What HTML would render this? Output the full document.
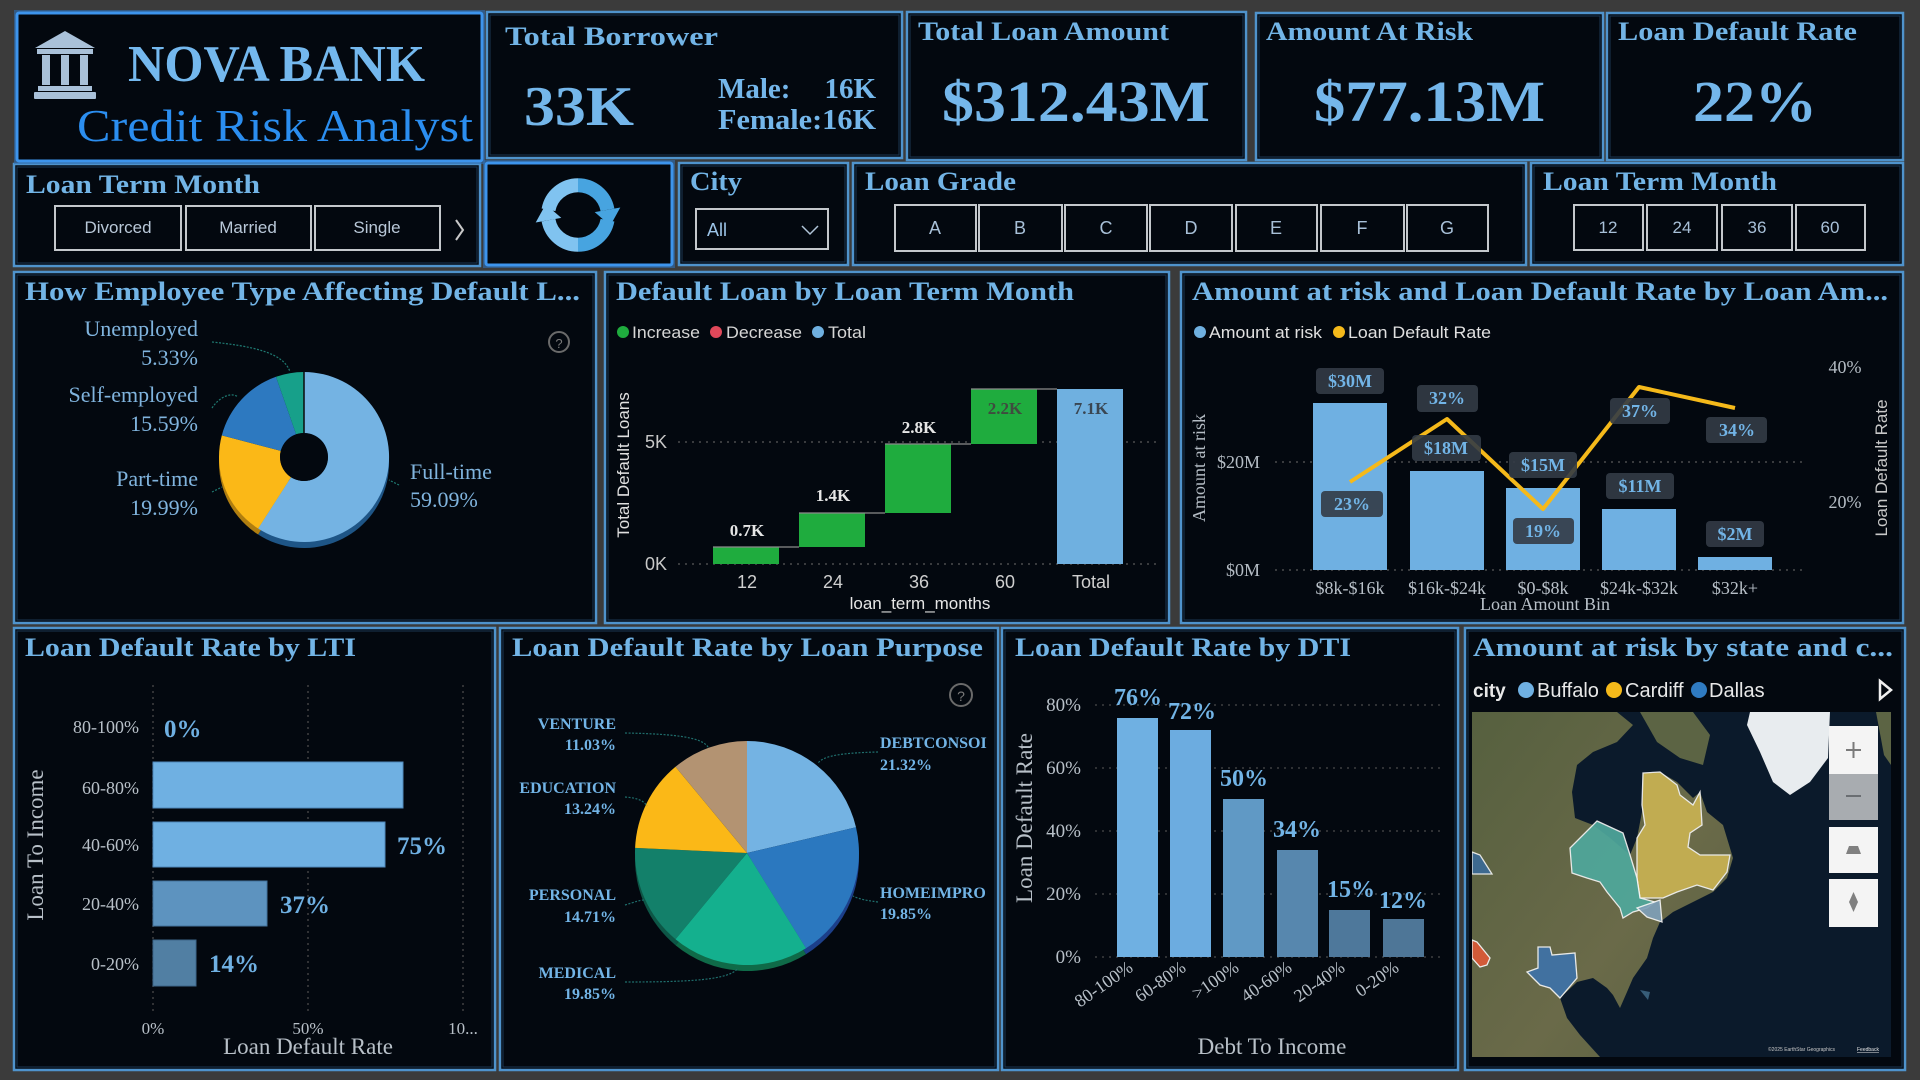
<!DOCTYPE html>
<html><head><meta charset="utf-8"><style>
html,body{margin:0;padding:0;background:#3b3b3b;width:1920px;height:1080px;overflow:hidden}
svg{display:block}
.t{font-family:"Liberation Serif",serif;font-weight:bold;font-size:26px;fill:#72b4e6}
.s{font-family:"Liberation Sans",sans-serif}
.f{font-family:"Liberation Serif",serif}
</style></head><body>
<svg width="1920" height="1080" viewBox="0 0 1920 1080" xmlns="http://www.w3.org/2000/svg">
<defs>
<linearGradient id="rg" x1="0" y1="0" x2="1" y2="0"><stop offset="0.5" stop-color="#80c3f0"/><stop offset="0.5" stop-color="#47a4e0"/></linearGradient>
<linearGradient id="land" x1="0" y1="0" x2="1" y2="1"><stop offset="0" stop-color="#56603f"/><stop offset="0.6" stop-color="#6a6a49"/><stop offset="1" stop-color="#5a6140"/></linearGradient>
<clipPath id="mapclip"><rect x="1472" y="712" width="419" height="345"/></clipPath>
</defs>
<rect width="1920" height="1080" fill="#3b3b3b"/>

<!-- PANELS -->
<g fill="#03080f" stroke="#4f93cc" stroke-width="2.5">
<rect x="487" y="12" width="415" height="146"/>
<rect x="907" y="12" width="339" height="148"/>
<rect x="1256" y="13" width="347" height="147"/>
<rect x="1607" y="13" width="296" height="147"/>
<rect x="14" y="164" width="466" height="102"/>
<rect x="679" y="163" width="169" height="102"/>
<rect x="853" y="163" width="673" height="102"/>
<rect x="1531" y="163" width="372" height="102"/>
<rect x="14" y="272" width="582" height="351"/>
<rect x="605" y="272" width="564" height="351"/>
<rect x="1181" y="272" width="722" height="351"/>
<rect x="14" y="628" width="481" height="442"/>
<rect x="500" y="628" width="498" height="442"/>
<rect x="1002" y="628" width="456" height="442"/>
<rect x="1465" y="628" width="440" height="442"/>
</g>
<g fill="none" stroke="#1b3650" stroke-width="1">
<rect x="490" y="15" width="409" height="140"/>
<rect x="910" y="15" width="333" height="142"/>
<rect x="1259" y="16" width="341" height="141"/>
<rect x="1610" y="16" width="290" height="141"/>
<rect x="17" y="167" width="460" height="96"/>
<rect x="682" y="166" width="163" height="96"/>
<rect x="856" y="166" width="667" height="96"/>
<rect x="1534" y="166" width="366" height="96"/>
<rect x="17" y="275" width="576" height="345"/>
<rect x="608" y="275" width="558" height="345"/>
<rect x="1184" y="275" width="716" height="345"/>
<rect x="17" y="631" width="475" height="436"/>
<rect x="503" y="631" width="492" height="436"/>
<rect x="1005" y="631" width="450" height="436"/>
<rect x="1468" y="631" width="434" height="436"/>
</g>
<!-- bright panels -->
<rect x="17" y="13" width="465" height="148" fill="#03080f" stroke="#2f6fb5" stroke-width="6" opacity="0.6"/>
<rect x="17" y="13" width="465" height="148" fill="#03080f" stroke="#3d94ec" stroke-width="3" rx="2"/>
<rect x="486" y="163" width="186" height="102" fill="#03080f" stroke="#2f6fb5" stroke-width="6" opacity="0.6"/>
<rect x="486" y="163" width="186" height="102" fill="#03080f" stroke="#3d94ec" stroke-width="3" rx="2"/>

<!-- TITLE BOX -->
<g fill="#a9c1d9">
<polygon points="65,31 35,48 95,48"/>
<rect x="37" y="49" width="56" height="5"/>
<rect x="42" y="55" width="8" height="30"/>
<rect x="61" y="55" width="8" height="30"/>
<rect x="80" y="55" width="8" height="30"/>
<rect x="38" y="86" width="54" height="5"/>
<rect x="34" y="92" width="62" height="7" rx="1"/>
</g>
<text x="128" y="81" class="f" font-weight="bold" font-size="52" fill="#74b8ee" textLength="297" lengthAdjust="spacingAndGlyphs">NOVA BANK</text>
<text x="77" y="141" class="f" font-size="46" fill="#2b8ef0" textLength="396" lengthAdjust="spacingAndGlyphs">Credit Risk Analyst</text>

<!-- KPI -->
<text x="505" y="45" class="t" textLength="213" lengthAdjust="spacingAndGlyphs">Total Borrower</text>
<text x="524" y="125" class="f" font-weight="bold" font-size="56" fill="#74b6ea" textLength="110" lengthAdjust="spacingAndGlyphs">33K</text>
<text x="718" y="98" class="f" font-weight="bold" font-size="29" fill="#74b6ea">Male:</text>
<text x="876" y="98" class="f" font-weight="bold" font-size="29" fill="#74b6ea" text-anchor="end">16K</text>
<text x="718" y="129" class="f" font-weight="bold" font-size="29" fill="#74b6ea" textLength="158" lengthAdjust="spacingAndGlyphs">Female:16K</text>

<text x="918" y="40" class="t" textLength="251" lengthAdjust="spacingAndGlyphs">Total Loan Amount</text>
<text x="942" y="121" class="f" font-weight="bold" font-size="58" fill="#74b6ea" textLength="268" lengthAdjust="spacingAndGlyphs">$312.43M</text>
<text x="1266" y="40" class="t" textLength="207" lengthAdjust="spacingAndGlyphs">Amount At Risk</text>
<text x="1314" y="121" class="f" font-weight="bold" font-size="58" fill="#74b6ea" textLength="231" lengthAdjust="spacingAndGlyphs">$77.13M</text>
<text x="1618" y="40" class="t" textLength="239" lengthAdjust="spacingAndGlyphs">Loan Default Rate</text>
<text x="1693" y="121" class="f" font-weight="bold" font-size="58" fill="#74b6ea" textLength="124" lengthAdjust="spacingAndGlyphs">22%</text>

<!-- SLICERS -->
<text x="26" y="193" class="t" textLength="234" lengthAdjust="spacingAndGlyphs">Loan Term Month</text>
<g fill="none" stroke="#c4c8cc" stroke-width="2">
<rect x="55" y="206" width="126" height="44"/>
<rect x="186" y="206" width="125" height="44"/>
<rect x="315" y="206" width="125" height="44"/>
</g>
<g class="s" font-size="17" fill="#b9c8d8" text-anchor="middle">
<text x="118" y="233">Divorced</text>
<text x="248" y="233">Married</text>
<text x="377" y="233">Single</text>
</g>
<polyline points="456,220 463,230 456,240" fill="none" stroke="#c8c8c8" stroke-width="2"/>

<!-- refresh icon -->
<g>
<path d="M548.5,209.8 A30,30 0 0 1 607.5,209.8" fill="none" stroke="url(#rg)" stroke-width="14"/>
<path d="M607.5,220.2 A30,30 0 0 1 548.5,220.2" fill="none" stroke="url(#rg)" stroke-width="14"/>
<polygon points="620.3,207.5 594.7,212.1 610.3,225.6" fill="#47a4e0"/>
<polygon points="535.7,222.5 561.3,217.9 545.7,204.4" fill="#80c3f0"/>
</g>

<text x="690" y="190" class="t" textLength="52" lengthAdjust="spacingAndGlyphs">City</text>
<rect x="696" y="209" width="132" height="40" fill="none" stroke="#c4c8cc" stroke-width="2"/>
<text x="707" y="236" class="s" font-size="18" fill="#9cc4e8">All</text>
<polyline points="802,226 810,234 818,226" fill="none" stroke="#b0c4d8" stroke-width="1.5"/>

<text x="865" y="190" class="t" textLength="151" lengthAdjust="spacingAndGlyphs">Loan Grade</text>
<g fill="none" stroke="#c4c8cc" stroke-width="2">
<rect x="895" y="205" width="81" height="46"/>
<rect x="979" y="205" width="83" height="46"/>
<rect x="1065" y="205" width="82" height="46"/>
<rect x="1150" y="205" width="82" height="46"/>
<rect x="1236" y="205" width="81" height="46"/>
<rect x="1321" y="205" width="83" height="46"/>
<rect x="1407" y="205" width="81" height="46"/>
</g>
<g class="s" font-size="18" fill="#a8c0d8" text-anchor="middle">
<text x="935" y="234">A</text><text x="1020" y="234">B</text><text x="1106" y="234">C</text><text x="1191" y="234">D</text><text x="1276" y="234">E</text><text x="1362" y="234">F</text><text x="1447" y="234">G</text>
</g>

<text x="1543" y="190" class="t" textLength="234" lengthAdjust="spacingAndGlyphs">Loan Term Month</text>
<g fill="none" stroke="#c4c8cc" stroke-width="2">
<rect x="1574" y="205" width="69" height="45"/>
<rect x="1647" y="205" width="70" height="45"/>
<rect x="1722" y="205" width="70" height="45"/>
<rect x="1796" y="205" width="69" height="45"/>
</g>
<g class="s" font-size="17" fill="#a8c0d8" text-anchor="middle">
<text x="1608" y="233">12</text><text x="1682" y="233">24</text><text x="1757" y="233">36</text><text x="1830" y="233">60</text>
</g>

<!-- EMPLOYEE DONUT -->
<text x="25" y="300" class="t" textLength="555" lengthAdjust="spacingAndGlyphs">How Employee Type Affecting Default L...</text>
<circle cx="559" cy="342" r="10" fill="none" stroke="#6a6a6a" stroke-width="2"/>
<text x="559" y="348" class="s" font-size="13" fill="#7a7a7a" text-anchor="middle">?</text>
<g transform="translate(0,6)">
<path d="M304,372 A85,85 0 1 1 258.1,528.5 L291.0,477.2 A24,24 0 1 0 304,433 Z" fill="#1e5586"/>
<path d="M258.1,528.5 A85,85 0 0 1 221.8,435.4 L280.8,450.9 A24,24 0 0 0 291.0,477.2 Z" fill="#b07e10"/>
</g>
<path d="M304,372 A85,85 0 1 1 258.1,528.5 L291.0,477.2 A24,24 0 1 0 304,433 Z" fill="#74b3e3"/>
<path d="M258.1,528.5 A85,85 0 0 1 221.8,435.4 L280.8,450.9 A24,24 0 0 0 291.0,477.2 Z" fill="#fbb817"/>
<path d="M221.8,435.4 A85,85 0 0 1 276.0,376.8 L296.1,434.3 A24,24 0 0 0 280.8,450.9 Z" fill="#2d79c0"/>
<path d="M276.0,376.8 A85,85 0 0 1 304,372 L304,433 A24,24 0 0 0 296.1,434.3 Z" fill="#17a08a"/>
<line x1="304" y1="372" x2="304" y2="433" stroke="#0a0a0a" stroke-width="1.5"/>
<circle cx="304" cy="457" r="24" fill="#03080f"/>
<g fill="none" stroke="#1f7a72" stroke-width="1.2" stroke-dasharray="2,1.5">
<path d="M212,342 C250,346 284,352 290,372"/>
<path d="M212,408 C220,396 232,392 238,397"/>
<path d="M212,492 L222,487"/>
<path d="M399,485 L389,480"/>
</g>
<g class="f" font-size="22" fill="#80b4de" text-anchor="end">
<text x="198" y="336">Unemployed</text>
<text x="198" y="365">5.33%</text>
<text x="198" y="402">Self-employed</text>
<text x="198" y="431">15.59%</text>
<text x="198" y="486">Part-time</text>
<text x="198" y="515">19.99%</text>
</g>
<g class="f" font-size="22" fill="#80b4de">
<text x="410" y="479">Full-time</text>
<text x="410" y="507">59.09%</text>
</g>

<!-- WATERFALL -->
<text x="616" y="300" class="t" textLength="458" lengthAdjust="spacingAndGlyphs">Default Loan by Loan Term Month</text>
<circle cx="623" cy="332" r="6" fill="#1fac3e"/>
<circle cx="716" cy="332" r="6" fill="#e0485a"/>
<circle cx="818" cy="332" r="6" fill="#6fb0e0"/>
<g class="s" font-size="17" fill="#d6d6d6">
<text x="632" y="338" textLength="68" lengthAdjust="spacingAndGlyphs">Increase</text>
<text x="726" y="338" textLength="76" lengthAdjust="spacingAndGlyphs">Decrease</text>
<text x="828" y="338" textLength="38" lengthAdjust="spacingAndGlyphs">Total</text>
</g>
<g stroke="#5a5a5a" stroke-width="1.3" stroke-dasharray="2,5">
<line x1="678" y1="564" x2="1160" y2="564"/>
<line x1="678" y1="442" x2="1160" y2="442"/>
</g>
<g class="s" font-size="18" fill="#c8c8c8" text-anchor="end">
<text x="667" y="570">0K</text><text x="667" y="448">5K</text>
</g>
<text transform="translate(629,465) rotate(-90)" class="s" font-size="17" fill="#e0e0e0" text-anchor="middle">Total Default Loans</text>
<g fill="#1fac3e">
<rect x="713" y="547" width="66" height="17"/>
<rect x="799" y="513" width="66" height="34"/>
<rect x="885" y="444" width="66" height="69"/>
<rect x="971" y="389" width="66" height="55"/>
</g>
<rect x="1057" y="389" width="66" height="175" fill="#6fb0e0"/>
<g stroke="#8a8a8a" stroke-width="1.3">
<line x1="713" y1="547" x2="799" y2="547"/>
<line x1="799" y1="513" x2="885" y2="513"/>
<line x1="885" y1="444" x2="971" y2="444"/>
<line x1="971" y1="389" x2="1057" y2="389"/>
</g>
<g class="f" font-weight="bold" font-size="17" text-anchor="middle">
<text x="747" y="536" fill="#e6e6e6">0.7K</text>
<text x="833" y="501" fill="#e6e6e6">1.4K</text>
<text x="919" y="433" fill="#e6e6e6">2.8K</text>
<text x="1005" y="414" fill="#3f4c3f">2.2K</text>
<text x="1091" y="414" fill="#3a4652">7.1K</text>
</g>
<g class="s" font-size="18" fill="#cfcfcf" text-anchor="middle">
<text x="747" y="588">12</text><text x="833" y="588">24</text><text x="919" y="588">36</text><text x="1005" y="588">60</text><text x="1091" y="588">Total</text>
</g>
<text x="920" y="609" class="s" font-size="17" fill="#e6e6e6" text-anchor="middle">loan_term_months</text>

<!-- AMOUNT AT RISK COMBO -->
<text x="1192" y="300" class="t" textLength="696" lengthAdjust="spacingAndGlyphs">Amount at risk and Loan Default Rate by Loan Am...</text>
<circle cx="1200" cy="332" r="6" fill="#6fb0e0"/>
<circle cx="1339" cy="332" r="6" fill="#f5b91a"/>
<g class="s" font-size="17" fill="#e0e0e0">
<text x="1209" y="338" textLength="113" lengthAdjust="spacingAndGlyphs">Amount at risk</text>
<text x="1348" y="338" textLength="143" lengthAdjust="spacingAndGlyphs">Loan Default Rate</text>
</g>
<g stroke="#5a5a5a" stroke-width="1.3" stroke-dasharray="2,5">
<line x1="1275" y1="570" x2="1807" y2="570"/>
<line x1="1275" y1="462" x2="1807" y2="462"/>
</g>
<g class="f" font-size="18" fill="#b4bcc4">
<text x="1260" y="576" text-anchor="end">$0M</text>
<text x="1260" y="468" text-anchor="end">$20M</text>
<text x="1845" y="373" text-anchor="middle">40%</text>
<text x="1845" y="508" text-anchor="middle">20%</text>
</g>
<text transform="translate(1205,468) rotate(-90)" class="f" font-size="18" fill="#b4bcc4" text-anchor="middle">Amount at risk</text>
<text transform="translate(1887,468) rotate(-90)" class="s" font-size="17" fill="#c8c8c8" text-anchor="middle">Loan Default Rate</text>
<g fill="#6fb0e2">
<rect x="1313" y="403" width="74" height="167"/>
<rect x="1410" y="471" width="74" height="99"/>
<rect x="1506" y="488" width="74" height="82"/>
<rect x="1602" y="509" width="74" height="61"/>
<rect x="1698" y="557" width="74" height="13"/>
</g>
<polyline points="1350,482 1447,419 1543,509 1639,387 1735,408" fill="none" stroke="#f5b91a" stroke-width="4" stroke-linejoin="round"/>
<g fill="#333b46" opacity="0.9">
<rect x="1316" y="368" width="68" height="26" rx="4"/>
<rect x="1417" y="385" width="61" height="27" rx="4"/>
<rect x="1412" y="435" width="69" height="26" rx="4"/>
<rect x="1509" y="452" width="68" height="26" rx="4"/>
<rect x="1321" y="491" width="62" height="26" rx="4"/>
<rect x="1513" y="518" width="61" height="26" rx="4"/>
<rect x="1610" y="398" width="60" height="26" rx="4"/>
<rect x="1606" y="473" width="68" height="26" rx="4"/>
<rect x="1706" y="417" width="61" height="26" rx="4"/>
<rect x="1706" y="521" width="58" height="26" rx="4"/>
</g>
<g class="f" font-weight="bold" font-size="18" fill="#72b4e6" text-anchor="middle">
<text x="1350" y="387">$30M</text>
<text x="1447" y="404">32%</text>
<text x="1446" y="454">$18M</text>
<text x="1543" y="471">$15M</text>
<text x="1352" y="510">23%</text>
<text x="1543" y="537">19%</text>
<text x="1640" y="417">37%</text>
<text x="1640" y="492">$11M</text>
<text x="1737" y="436">34%</text>
<text x="1735" y="540">$2M</text>
</g>
<g class="f" font-size="18" fill="#b8c0c8" text-anchor="middle">
<text x="1350" y="594">$8k-$16k</text>
<text x="1447" y="594">$16k-$24k</text>
<text x="1543" y="594">$0-$8k</text>
<text x="1639" y="594">$24k-$32k</text>
<text x="1735" y="594">$32k+</text>
<text x="1545" y="610">Loan Amount Bin</text>
</g>

<!-- LTI -->
<text x="25" y="656" class="t" textLength="331" lengthAdjust="spacingAndGlyphs">Loan Default Rate by LTI</text>
<g stroke="#4a4a4a" stroke-width="1.3" stroke-dasharray="2,4">
<line x1="153" y1="685" x2="153" y2="1012"/>
<line x1="308" y1="685" x2="308" y2="1012"/>
<line x1="463" y1="685" x2="463" y2="1012"/>
</g>
<rect x="153" y="762" width="250" height="46" fill="#6fb0e2" stroke="#4f88bb" stroke-width="1"/>
<rect x="153" y="822" width="232" height="45" fill="#6fb0e2" stroke="#4f88bb" stroke-width="1"/>
<rect x="153" y="881" width="114" height="45" fill="#5d93bf" stroke="#44739c" stroke-width="1"/>
<rect x="153" y="940" width="43" height="46" fill="#517fa3" stroke="#3d6688" stroke-width="1"/>
<g class="f" font-size="18" fill="#b8c0c8" text-anchor="end">
<text x="139" y="733">80-100%</text>
<text x="139" y="794">60-80%</text>
<text x="139" y="851">40-60%</text>
<text x="139" y="910">20-40%</text>
<text x="139" y="970">0-20%</text>
</g>
<g class="f" font-weight="bold" font-size="25" fill="#6fb0e2">
<text x="164" y="737">0%</text>
<text x="397" y="854">75%</text>
<text x="280" y="913">37%</text>
<text x="209" y="972">14%</text>
</g>
<g class="f" font-size="17" fill="#b8c0c8" text-anchor="middle">
<text x="153" y="1034">0%</text><text x="308" y="1034">50%</text><text x="463" y="1034">10...</text>
</g>
<text x="308" y="1054" class="f" font-size="23" fill="#b8c0c8" text-anchor="middle">Loan Default Rate</text>
<text transform="translate(43,845) rotate(-90)" class="f" font-size="23" fill="#b8c0c8" text-anchor="middle">Loan To Income</text>

<!-- PURPOSE PIE -->
<text x="512" y="656" class="t" textLength="471" lengthAdjust="spacingAndGlyphs">Loan Default Rate by Loan Purpose</text>
<circle cx="961" cy="695" r="11" fill="none" stroke="#6a6a6a" stroke-width="2"/>
<text x="961" y="701" class="s" font-size="14" fill="#7a7a7a" text-anchor="middle">?</text>
<g transform="translate(0,6)">
<path d="M747,853 L856.0,827.3 A112,112 0 0 1 806.0,948.2 Z" fill="#1c3f8a"/>
<path d="M747,853 L806.0,948.2 A112,112 0 0 1 675.5,939.2 Z" fill="#0f6a48"/>
<path d="M747,853 L675.5,939.2 A112,112 0 0 1 635.1,847.9 Z" fill="#0d5646"/>
</g>
<path d="M747,853 L747,741 A112,112 0 0 1 856.0,827.3 Z" fill="#74b3e3"/>
<path d="M747,853 L856.0,827.3 A112,112 0 0 1 806.0,948.2 Z" fill="#2b78bf"/>
<path d="M747,853 L806.0,948.2 A112,112 0 0 1 675.5,939.2 Z" fill="#14b08e"/>
<path d="M747,853 L675.5,939.2 A112,112 0 0 1 635.1,847.9 Z" fill="#13806a"/>
<path d="M747,853 L635.1,847.9 A112,112 0 0 1 675.5,766.8 Z" fill="#fbb817"/>
<path d="M747,853 L675.5,766.8 A112,112 0 0 1 747,741 Z" fill="#b39372"/>
<g fill="none" stroke="#1f6e6c" stroke-width="1.2" stroke-dasharray="2,1.5">
<path d="M625,733 C680,734 702,738 708,747"/>
<path d="M625,797 C638,798 644,801 647,806"/>
<path d="M625,905 C635,902 640,900 644,900"/>
<path d="M625,982 C690,982 730,980 738,968"/>
<path d="M878,752 C835,753 823,757 818,763"/>
<path d="M878,902 C862,900 857,898 853,896"/>
</g>
<g class="f" font-weight="bold" font-size="16" fill="#72b4e6" text-anchor="end">
<text x="616" y="729">VENTURE</text><text x="616" y="750">11.03%</text>
<text x="616" y="793">EDUCATION</text><text x="616" y="814">13.24%</text>
<text x="616" y="900">PERSONAL</text><text x="616" y="922">14.71%</text>
<text x="616" y="978">MEDICAL</text><text x="616" y="999">19.85%</text>
</g>
<g class="f" font-weight="bold" font-size="16" fill="#72b4e6">
<text x="880" y="748">DEBTCONSOI</text><text x="880" y="770">21.32%</text>
<text x="880" y="898">HOMEIMPRO</text><text x="880" y="919">19.85%</text>
</g>

<!-- DTI -->
<text x="1015" y="656" class="t" textLength="336" lengthAdjust="spacingAndGlyphs">Loan Default Rate by DTI</text>
<g stroke="#4a4a4a" stroke-width="1.3" stroke-dasharray="2,5">
<line x1="1095" y1="957" x2="1443" y2="957"/>
<line x1="1095" y1="894" x2="1443" y2="894"/>
<line x1="1095" y1="831" x2="1443" y2="831"/>
<line x1="1095" y1="768" x2="1443" y2="768"/>
<line x1="1095" y1="705" x2="1443" y2="705"/>
</g>
<g class="f" font-size="19" fill="#b8c0c8" text-anchor="end">
<text x="1081" y="963">0%</text><text x="1081" y="900">20%</text><text x="1081" y="837">40%</text><text x="1081" y="774">60%</text><text x="1081" y="711">80%</text>
</g>
<rect x="1117" y="718" width="41" height="239" fill="#6fb0e2"/>
<rect x="1170" y="730" width="41" height="227" fill="#6cace0"/>
<rect x="1223" y="799" width="41" height="158" fill="#6099c5"/>
<rect x="1277" y="850" width="41" height="107" fill="#5787ae"/>
<rect x="1329" y="910" width="41" height="47" fill="#4e789b"/>
<rect x="1383" y="919" width="41" height="38" fill="#4e7697"/>
<g class="f" font-weight="bold" font-size="24" fill="#72b4e6" text-anchor="middle">
<text x="1138" y="705">76%</text><text x="1192" y="719">72%</text><text x="1244" y="786">50%</text><text x="1297" y="837">34%</text><text x="1351" y="897">15%</text><text x="1403" y="908">12%</text>
</g>
<g class="f" font-size="18" fill="#b8c0c8" text-anchor="end">
<text transform="translate(1134,970) rotate(-35)">80-100%</text>
<text transform="translate(1187,970) rotate(-35)">60-80%</text>
<text transform="translate(1240,970) rotate(-35)">&gt;100%</text>
<text transform="translate(1293,970) rotate(-35)">40-60%</text>
<text transform="translate(1346,970) rotate(-35)">20-40%</text>
<text transform="translate(1400,970) rotate(-35)">0-20%</text>
</g>
<text x="1272" y="1054" class="f" font-size="23" fill="#b8c0c8" text-anchor="middle">Debt To Income</text>
<text transform="translate(1032,818) rotate(-90)" class="f" font-size="23" fill="#b8c0c8" text-anchor="middle">Loan Default Rate</text>

<!-- MAP -->
<text x="1473" y="656" class="t" textLength="420" lengthAdjust="spacingAndGlyphs">Amount at risk by state and c...</text>
<text x="1473" y="697" class="s" font-weight="bold" font-size="19" fill="#e8e8e8">city</text>
<circle cx="1526" cy="690" r="8" fill="#6fb0e2"/>
<circle cx="1614" cy="690" r="8" fill="#f5b91a"/>
<circle cx="1699" cy="690" r="8" fill="#2f7bc2"/>
<g class="s" font-size="20" fill="#e8e8e8">
<text x="1537" y="697">Buffalo</text><text x="1625" y="697">Cardiff</text><text x="1709" y="697">Dallas</text>
</g>
<polygon points="1880,681 1891,690 1880,699" fill="none" stroke="#f0f0f0" stroke-width="2.5"/>
<g clip-path="url(#mapclip)">
<rect x="1472" y="712" width="419" height="345" fill="#0b1a2b"/>
<polygon fill="url(#land)" points="1472,712 1617,712 1633,725 1617,742 1593,752 1577,765 1572,792 1575,818 1593,825 1610,838 1630,855 1637,838 1642,812 1643,773 1660,772 1677,782 1693,798 1700,792 1707,812 1723,825 1733,858 1727,878 1713,892 1693,902 1673,912 1660,922 1653,938 1647,958 1633,978 1627,992 1620,1008 1613,995 1607,988 1593,978 1577,982 1560,998 1567,1018 1580,1035 1600,1057 1472,1057"/>
<polygon fill="#5c6444" points="1640,712 1693,712 1710,735 1703,765 1680,758 1657,742"/>
<polygon fill="#5c6444" points="1876,712 1891,712 1891,765 1884,755"/>
<polygon fill="#e8ecef" points="1750,712 1830,712 1828,758 1810,782 1790,795 1773,782 1760,752 1747,725"/>
<polygon fill="#4a7a9a" opacity="0.7" points="1640,990 1650,992 1648,1000"/>
<polygon fill="#c9b252" opacity="0.92" stroke="#f4f4f4" stroke-width="1.3" points="1643,773 1660,772 1677,785 1680,795 1693,805 1700,792 1702,825 1690,833 1688,847 1700,855 1730,855 1727,872 1713,890 1697,885 1677,892 1663,898 1640,898 1637,878 1637,838 1645,825 1642,805"/>
<polygon fill="#4fa89c" opacity="0.92" stroke="#f4f4f4" stroke-width="1.3" points="1597,821 1623,833 1630,855 1637,878 1640,898 1655,902 1647,908 1633,912 1623,918 1620,908 1607,892 1600,882 1587,878 1572,873 1570,848"/>
<polygon fill="#7fa0b8" opacity="0.92" stroke="#f4f4f4" stroke-width="1.3" points="1637,908 1660,900 1662,922 1647,917"/>
<polygon fill="#3e72a8" opacity="0.92" stroke="#f4f4f4" stroke-width="1.3" points="1538,947 1550,947 1552,955 1575,953 1577,978 1560,998 1550,988 1540,985 1527,972 1538,968"/>
<polygon fill="#d85a38" opacity="0.95" stroke="#f4f4f4" stroke-width="1.3" points="1472,940 1477,942 1490,958 1487,965 1480,967 1472,958"/>
<polygon fill="#3a6a98" opacity="0.9" stroke="#f4f4f4" stroke-width="1.3" points="1472,852 1480,855 1492,874 1472,874"/>
</g>
<rect x="1829" y="726" width="49" height="48" fill="#f4f4f4"/>
<rect x="1829" y="774" width="49" height="46" fill="#a8acb0"/>
<rect x="1829" y="827" width="49" height="46" fill="#f4f4f4"/>
<rect x="1829" y="879" width="49" height="48" fill="#f4f4f4"/>
<g stroke="#7a7a7a" stroke-width="2">
<line x1="1846" y1="750" x2="1861" y2="750"/><line x1="1853.5" y1="742" x2="1853.5" y2="758"/>
<line x1="1846" y1="796" x2="1861" y2="796" stroke="#6a6e72"/>
</g>
<polygon points="1849,846 1858,846 1861,854 1846,854" fill="#808080"/>
<polygon points="1853.5,892 1858,902 1853.5,912 1849,902" fill="#808080"/>
<text x="1768" y="1051" class="s" font-size="5" fill="#c8c8c8">©2025 EarthStar Geographics</text>
<text x="1857" y="1051" class="s" font-size="5" fill="#e8e8e8" text-decoration="underline">Feedback</text>
</svg>
</body></html>
